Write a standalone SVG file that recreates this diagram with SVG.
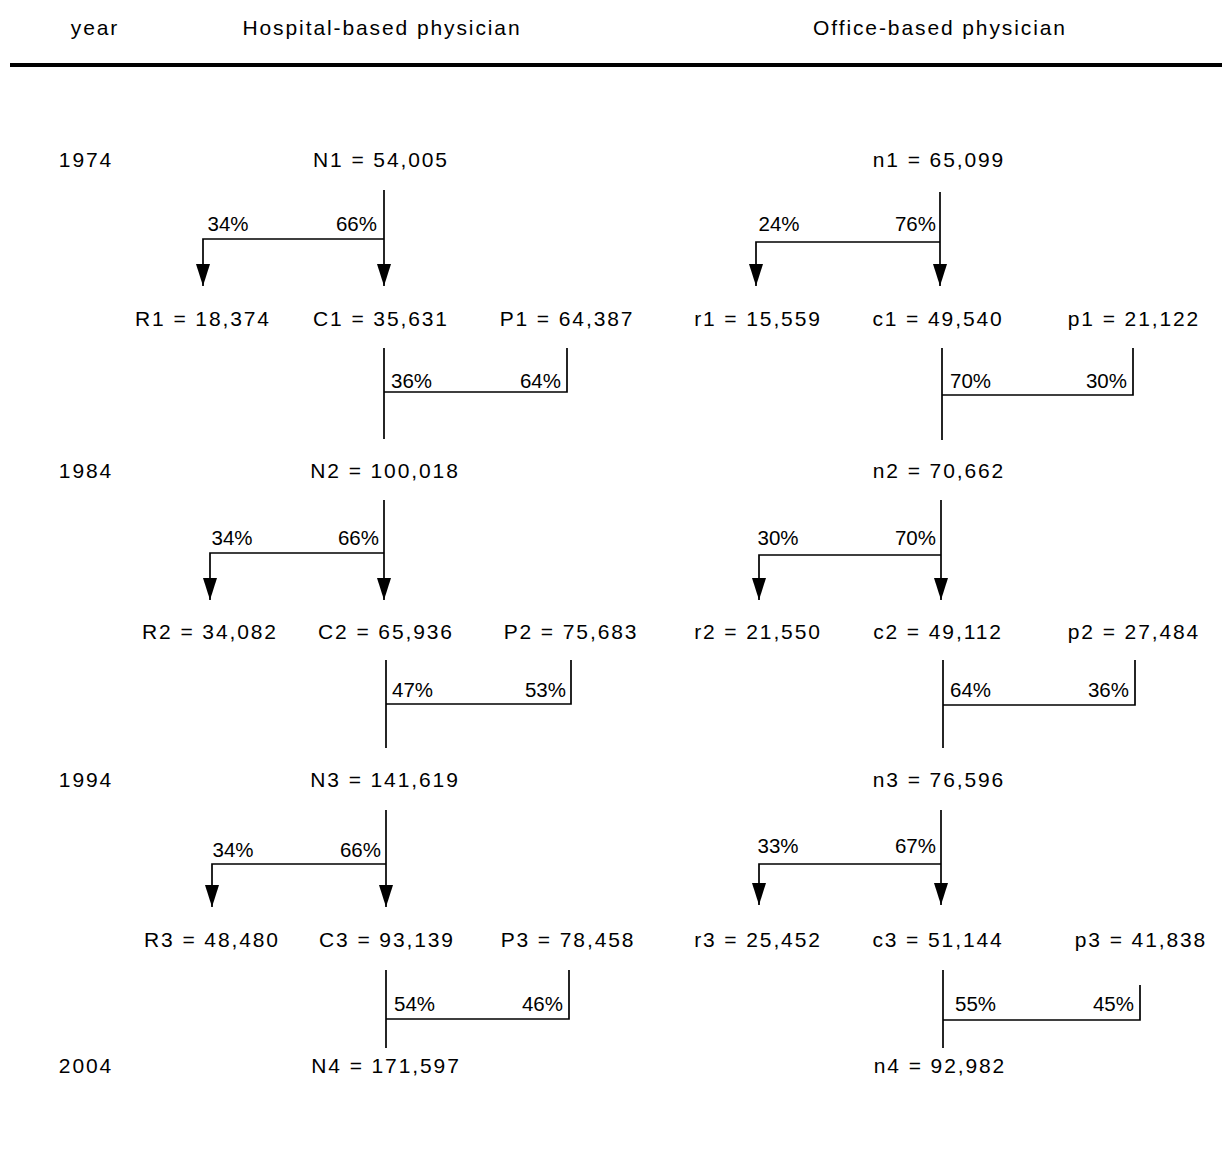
<svg xmlns="http://www.w3.org/2000/svg" width="1222" height="1159" viewBox="0 0 1222 1159">
<style>
text{font-family:"Liberation Sans",Arial,sans-serif;font-size:21px;fill:#000;letter-spacing:1.9px}
.m{text-anchor:middle}
.e{text-anchor:end}
.pc{letter-spacing:0px;font-size:20.5px}
.c{fill:none;stroke:#000;stroke-width:1.7}
</style>
<defs>
<marker id="ah" markerWidth="22" markerHeight="14" refX="22" refY="7" orient="auto" markerUnits="userSpaceOnUse" viewBox="0 0 22 14"><path d="M0,0 L22,7 L0,14 z" fill="#000"/></marker>
</defs>
<rect width="1222" height="1159" fill="#fff"/>
<g id="header">
<text class="m" x="95" y="35">year</text>
<text class="m" x="382" y="35">Hospital-based physician</text>
<text class="m" x="940" y="35">Office-based physician</text>
<line x1="10" y1="65" x2="1222" y2="65" stroke="#000" stroke-width="4"/>
</g>
<g id="years">
<text class="m" x="86" y="167">1974</text>
<text class="m" x="86" y="478">1984</text>
<text class="m" x="86" y="787">1994</text>
<text class="m" x="86" y="1073">2004</text>
</g>
<g id="N1"><text class="m" x="381" y="167">N1 = 54,005</text></g>
<g id="R1"><text class="m" x="203" y="326">R1 = 18,374</text></g>
<g id="C1"><text class="m" x="381" y="326">C1 = 35,631</text></g>
<g id="P1"><text class="m" x="567" y="326">P1 = 64,387</text></g>
<g id="N2"><text class="m" x="385" y="478">N2 = 100,018</text></g>
<g id="R2"><text class="m" x="210" y="639">R2 = 34,082</text></g>
<g id="C2"><text class="m" x="386" y="639">C2 = 65,936</text></g>
<g id="P2"><text class="m" x="571" y="639">P2 = 75,683</text></g>
<g id="N3"><text class="m" x="385" y="787">N3 = 141,619</text></g>
<g id="R3"><text class="m" x="212" y="947">R3 = 48,480</text></g>
<g id="C3"><text class="m" x="387" y="947">C3 = 93,139</text></g>
<g id="P3"><text class="m" x="568" y="947">P3 = 78,458</text></g>
<g id="N4"><text class="m" x="386" y="1073">N4 = 171,597</text></g>
<g id="n1"><text class="m" x="939" y="167">n1 = 65,099</text></g>
<g id="r1"><text class="m" x="758" y="326">r1 = 15,559</text></g>
<g id="c1"><text class="m" x="938" y="326">c1 = 49,540</text></g>
<g id="p1"><text class="m" x="1134" y="326">p1 = 21,122</text></g>
<g id="n2"><text class="m" x="939" y="478">n2 = 70,662</text></g>
<g id="r2"><text class="m" x="758" y="639">r2 = 21,550</text></g>
<g id="c2"><text class="m" x="938" y="639">c2 = 49,112</text></g>
<g id="p2"><text class="m" x="1134" y="639">p2 = 27,484</text></g>
<g id="n3"><text class="m" x="939" y="787">n3 = 76,596</text></g>
<g id="r3"><text class="m" x="758" y="947">r3 = 25,452</text></g>
<g id="c3"><text class="m" x="938" y="947">c3 = 51,144</text></g>
<g id="p3"><text class="m" x="1141" y="947">p3 = 41,838</text></g>
<g id="n4"><text class="m" x="940" y="1073">n4 = 92,982</text></g>
<g id="connectors">
<path class="c" d="M384,190 V286" marker-end="url(#ah)"/>
<path class="c" d="M384,239 H203 V286" marker-end="url(#ah)"/>
<path class="c" d="M384,348 V439 M384,392 H567 V348"/>
<path class="c" d="M384,500 V600" marker-end="url(#ah)"/>
<path class="c" d="M384,553 H210 V600" marker-end="url(#ah)"/>
<path class="c" d="M386,660 V748 M386,704 H571 V660"/>
<path class="c" d="M386,810 V907" marker-end="url(#ah)"/>
<path class="c" d="M386,864 H212 V907" marker-end="url(#ah)"/>
<path class="c" d="M386,970 V1048 M386,1019 H569 V970"/>
<path class="c" d="M940,192 V286" marker-end="url(#ah)"/>
<path class="c" d="M940,242 H756 V286" marker-end="url(#ah)"/>
<path class="c" d="M942,348 V440 M942,395 H1133 V348"/>
<path class="c" d="M941,500 V600" marker-end="url(#ah)"/>
<path class="c" d="M941,555 H759 V600" marker-end="url(#ah)"/>
<path class="c" d="M943,660 V748 M943,705 H1135 V660"/>
<path class="c" d="M941,810 V905" marker-end="url(#ah)"/>
<path class="c" d="M941,864 H759 V905" marker-end="url(#ah)"/>
<path class="c" d="M943,970 V1048 M943,1020 H1140 V985"/>
<text class="m pc" x="228" y="231">34%</text>
<text class="e pc" x="377" y="231">66%</text>
<text class="pc" x="391" y="388">36%</text>
<text class="e pc" x="561" y="388">64%</text>
<text class="m pc" x="232" y="545">34%</text>
<text class="e pc" x="379" y="545">66%</text>
<text class="pc" x="392" y="697">47%</text>
<text class="e pc" x="566" y="697">53%</text>
<text class="m pc" x="233" y="857">34%</text>
<text class="e pc" x="381" y="857">66%</text>
<text class="pc" x="394" y="1011">54%</text>
<text class="e pc" x="563" y="1011">46%</text>
<text class="m pc" x="779" y="231">24%</text>
<text class="e pc" x="936" y="231">76%</text>
<text class="pc" x="950" y="388">70%</text>
<text class="e pc" x="1127" y="388">30%</text>
<text class="m pc" x="778" y="545">30%</text>
<text class="e pc" x="936" y="545">70%</text>
<text class="pc" x="950" y="697">64%</text>
<text class="e pc" x="1129" y="697">36%</text>
<text class="m pc" x="778" y="853">33%</text>
<text class="e pc" x="936" y="853">67%</text>
<text class="pc" x="955" y="1011">55%</text>
<text class="e pc" x="1134" y="1011">45%</text>
</g>
</svg>
